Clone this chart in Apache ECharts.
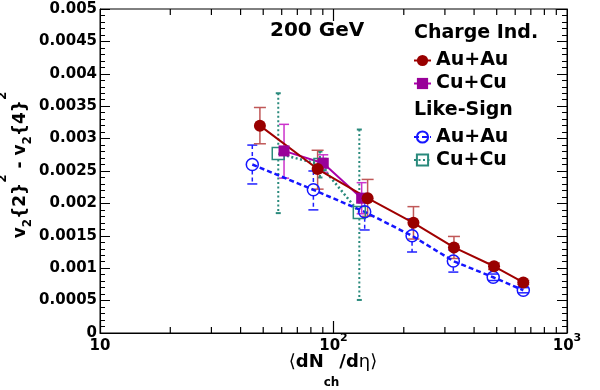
<!DOCTYPE html>
<html><head><meta charset="utf-8">
<script src="https://cdn.jsdelivr.net/npm/echarts@6/dist/echarts.min.js"></script>
<style>html,body{margin:0;padding:0;background:#fff}#c{width:600px;height:390px}</style>
</head><body><div id="c"></div>
<script>
// ---- data ----
// Charge independent, Au+Au: [dNch/deta, value, low, high]
const ciAuX = [48.4, 85.5, 140, 220, 328, 487, 650];
const ciAuY = [0.00320, 0.00253, 0.00208, 0.00170, 0.00132, 0.00103, 0.00078];
const ciAuLo = [0.00292, 0.00222, 0.00180, 0.00145, 0.00115, 0.00098, 0.00075];
const ciAuHi = [0.00348, 0.00282, 0.00237, 0.00195, 0.00149, 0.00108, 0.00081];
// Charge independent, Cu+Cu
const ciCuX = [61.4, 90.4, 132];
const ciCuY = [0.00281, 0.00262, 0.00208];
const ciCuLo = [0.00239, 0.00248, 0.00184];
const ciCuHi = [0.00322, 0.00275, 0.00232];
// Like-sign, Au+Au
const lsAuX = [44.9, 82, 136, 217, 326, 483, 650];
const lsAuY = [0.00260, 0.00221, 0.00187, 0.00150, 0.00111, 0.00086, 0.00066];
const lsAuLo = [0.00230, 0.00190, 0.00159, 0.00125, 0.00094, 0.00081, 0.00062];
const lsAuHi = [0.00290, 0.00250, 0.00215, 0.00176, 0.00128, 0.00091, 0.00070];
// Like-sign, Cu+Cu
const lsCuX = [58, 87.5, 129];
const lsCuY = [0.00277, 0.00260, 0.00186];
const lsCuLo = [0.00185, 0.00240, 0.00051];
const lsCuHi = [0.00370, 0.00280, 0.00314];
// axis tick positions (log axis)
const xMajorTicks = [100];
const xMinorTicks = [20, 30, 40, 50, 60, 70, 80, 90, 200, 300, 400, 500, 600, 700, 800, 900];
const legendNames = { ciAu: 'Au+Au', ciCu: 'Cu+Cu', lsAu: 'Au+Au', lsCu: 'Cu+Cu' };

const FF = '"DejaVu Sans", sans-serif';
const chart = echarts.init(document.getElementById('c'));

const yMin = 0, yMax = 0.005;
const pts = (xs, ys) => xs.map((x, i) => [x, ys[i]]);
const errs = (xs, ys, lo, hi) => xs.map((x, i) => [x, ys[i], lo[i], hi[i]]);

function errSeries(data, color, cap, dash, gap, width) {
  return {
    type: 'custom', silent: true, clip: false, z: 2,
    data: data, encode: { x: 0, y: [2, 3] },
    renderItem: function (params, api) {
      const x = api.value(0), y = api.value(1), lo = api.value(2), hi = api.value(3);
      const pc = api.coord([x, y]), pt = api.coord([x, hi]), pb = api.coord([x, lo]);
      const st = { stroke: color, lineWidth: width, lineDash: dash };
      const ch = [];
      if (pc[1] - gap > pt[1]) ch.push({ type: 'line', shape: { x1: pt[0], y1: pt[1], x2: pt[0], y2: pc[1] - gap }, style: st });
      if (pb[1] > pc[1] + gap) ch.push({ type: 'line', shape: { x1: pb[0], y1: pc[1] + gap, x2: pb[0], y2: pb[1] }, style: st });
      const cst = { stroke: color, lineWidth: width };
      ch.push({ type: 'line', shape: { x1: pt[0] - cap, y1: pt[1], x2: pt[0] + cap, y2: pt[1] }, style: cst });
      ch.push({ type: 'line', shape: { x1: pb[0] - cap, y1: pb[1], x2: pb[0] + cap, y2: pb[1] }, style: cst });
      return { type: 'group', children: ch };
    }
  };
}
// tick marks on the log x-axis (bottom and top)
function tickSeries(vals, yv, len) {
  return {
    type: 'custom', clip: false, z: 6,
    data: vals.map(v => [v, yv, yv]), encode: { x: 0, y: [1, 2] },
    renderItem: function (params, api) {
      const p = api.coord([api.value(0), api.value(1)]);
      return { type: 'line', shape: { x1: p[0], y1: p[1], x2: p[0], y2: p[1] + len }, style: { stroke: '#000', lineWidth: 1.2 } };
    }
  };
}

// composite text (sub/superscripts) helper
const mctx = document.createElement('canvas').getContext('2d');
function tw(t, s, w) { mctx.font = w + ' ' + s + 'px ' + FF; return mctx.measureText(t).width; }
function composite(pieces) {
  let x = 0; const children = [];
  pieces.forEach(p => {
    const [t, s, dy, w] = p;
    children.push({ type: 'text', x: x, y: dy - 0.346 * s,
      style: { text: t, fontSize: s, fontWeight: w, fontFamily: FF, fill: '#000', verticalAlign: 'middle', align: 'left' } });
    x += tw(t, s, w);
  });
  return { children, width: x };
}
const yT = composite([['v', 17, 0, 'bold'], ['2', 12, 6, 'bold'], ['{2}', 17, 0, 'bold'], ['2', 12, -19, 'bold'],
  [' - v', 17, 0, 'bold'], ['2', 12, 6, 'bold'], ['{4}', 17, 0, 'bold'], ['2', 12, -19, 'bold']]);
const xT = composite([['\u27E8', 18, 0, 'normal'], ['dN', 18, 0, 'bold'], ['ch', 12, 18, 'bold'], ['/d', 18, 0, 'bold'],
  ['\u03B7', 18, 0, 'normal'], ['\u27E9', 18, 0, 'normal']]);

const yAx = (pos, lab) => ({
  type: 'value', min: yMin, max: yMax, interval: 0.0005, position: pos,
  axisLine: { show: true, lineStyle: { color: '#000', width: 1 } },
  axisTick: { show: true, inside: true, length: 10, lineStyle: { color: '#000' } },
  minorTick: { show: true, splitNumber: 5, length: 5, lineStyle: { color: '#000' } },
  splitLine: { show: false },
  axisLabel: {
    show: lab, margin: 3, fontSize: 15, fontWeight: 'bold', fontFamily: FF, color: '#000',
    formatter: v => v === 0 ? '0' : String(+v.toFixed(4))
  }
});

const option = {
  animation: false,
  grid: { left: 100, right: 33, top: 9, bottom: 57, show: true, borderColor: '#000', borderWidth: 1 },
  xAxis: [{
    type: 'log', logBase: 10, min: 10, max: 1000, position: 'bottom',
    axisLine: { show: true, lineStyle: { color: '#000', width: 1 } },
    axisTick: { show: true, inside: true, length: 12, lineStyle: { color: '#000', width: 1.2 } },
    splitLine: { show: false },
    axisLabel: {
      show: true, margin: 0, showMinLabel: true, showMaxLabel: true,
      formatter: v => v < 50 ? '{a|10}' : '{a|10}{s|' + Math.round(Math.log10(v)) + '}',
      rich: {
        a: { fontSize: 15, fontWeight: 'bold', fontFamily: FF, color: '#000', lineHeight: 26 },
        s: { fontSize: 11, fontWeight: 'bold', fontFamily: FF, color: '#000', lineHeight: 11, verticalAlign: 'top' }
      }
    }
  }],
  yAxis: [yAx('left', true), yAx('right', false)],
  legend: [{
    orient: 'vertical', left: 413, top: 51, padding: 0, itemGap: 4, itemWidth: 17, itemHeight: 14,
    selectedMode: false, data: ['ciAu', 'ciCu'], formatter: n => legendNames[n],
    textStyle: { fontSize: 19, fontWeight: 'bold', fontFamily: FF, color: '#000' }
  }, {
    orient: 'vertical', left: 413, top: 127.5, padding: 0, itemGap: 4, itemWidth: 17, itemHeight: 14,
    selectedMode: false, data: ['lsAu', 'lsCu'], formatter: n => legendNames[n],
    textStyle: { fontSize: 19, fontWeight: 'bold', fontFamily: FF, color: '#000' }
  }],
  graphic: [
    { type: 'text', left: 270, top: 21, style: { text: '200 GeV', fontSize: 20, fontWeight: 'bold', fontFamily: FF, fill: '#000' } },
    { type: 'text', left: 414, top: 24, style: { text: 'Charge Ind.', fontSize: 19, fontWeight: 'bold', fontFamily: FF, fill: '#000' } },
    { type: 'text', left: 414, top: 101, style: { text: 'Like-Sign', fontSize: 19, fontWeight: 'bold', fontFamily: FF, fill: '#000' } },
    { type: 'group', x: 26.5, y: 165 + yT.width / 2, rotation: Math.PI / 2, children: yT.children },
    { type: 'group', x: 333 - xT.width / 2, y: 369, children: xT.children }
  ],
  series: [
    errSeries(errs(lsCuX, lsCuY, lsCuLo, lsCuHi), '#2a8a7c', 2.5, [2, 2.5], 6, 2),
    errSeries(errs(lsAuX, lsAuY, lsAuLo, lsAuHi), '#2020ff', 5, [4, 3], 6, 1.5),
    errSeries(errs(ciCuX, ciCuY, ciCuLo, ciCuHi), '#cc33cc', 5, [], 0, 1.5),
    errSeries(errs(ciAuX, ciAuY, ciAuLo, ciAuHi), '#c05858', 6, [], 0, 1.5),
    {
      name: 'lsCu', type: 'line', data: pts(lsCuX, lsCuY), symbol: 'rect', symbolSize: 12,
      itemStyle: { color: 'rgba(0,0,0,0)', borderColor: '#2a8a7c', borderWidth: 1.5 },
      lineStyle: { color: '#2a8a7c', width: 2.5, type: [2, 2.5] }
    },
    {
      name: 'lsAu', type: 'line', data: pts(lsAuX, lsAuY), symbol: 'circle', symbolSize: 12,
      itemStyle: { color: 'rgba(0,0,0,0)', borderColor: '#1515ff', borderWidth: 1.5 },
      lineStyle: { color: '#1515ff', width: 2.5, type: [5, 3] }
    },
    {
      name: 'ciCu', type: 'line', data: pts(ciCuX, ciCuY), symbol: 'rect', symbolSize: 11,
      itemStyle: { color: '#990099' }, lineStyle: { color: '#aa00aa', width: 2 }
    },
    {
      name: 'ciAu', type: 'line', data: pts(ciAuX, ciAuY), symbol: 'circle', symbolSize: 12,
      itemStyle: { color: '#990000' }, lineStyle: { color: '#a00000', width: 2 }
    },
    tickSeries(xMinorTicks, yMin, -6),
    tickSeries(xMinorTicks, yMax, 6),
    tickSeries(xMajorTicks, yMax, 12)
  ]
};
chart.setOption(option);
</script>
</body></html>
